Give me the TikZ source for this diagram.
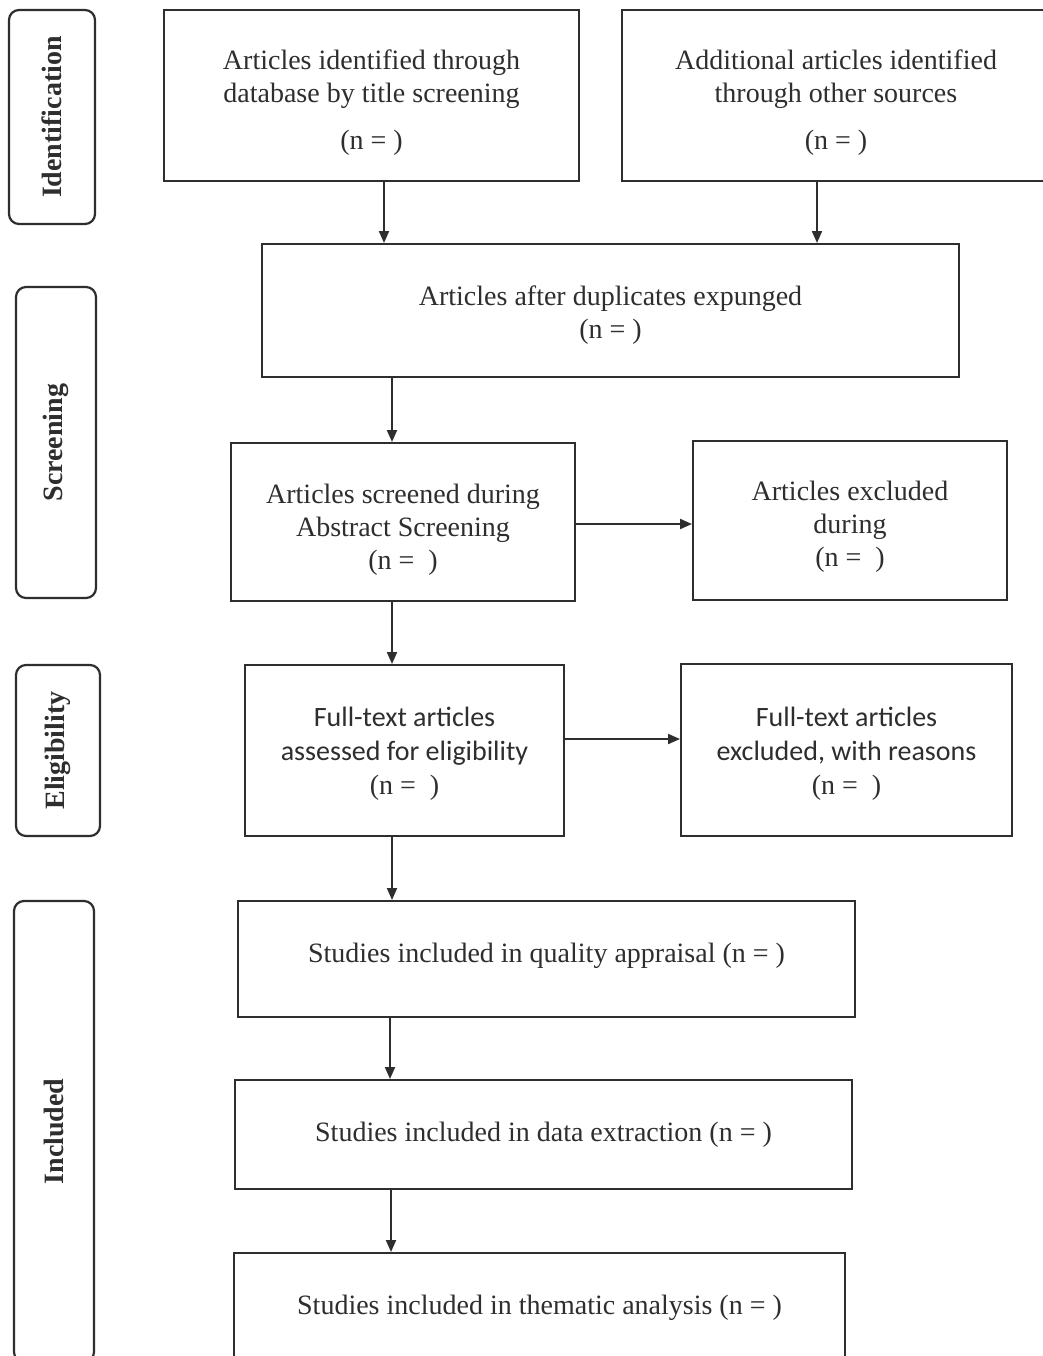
\documentclass[tikz,border=0pt]{standalone}
\usepackage{fontspec}
\setmainfont{Liberation Serif}
\newfontfamily\carlito{Carlito}
\usetikzlibrary{arrows.meta}
\definecolor{ink}{HTML}{2E2E2E}
\begin{document}
\begin{tikzpicture}[x=0.5pt,y=-0.5pt,
  every node/.style={text=ink},
  flowbox/.style={draw=ink,line width=1pt,rectangle,inner sep=0pt},
  txt/.style={align=center,inner sep=0pt,font=\fontsize{14}{16.5}\selectfont},
  sanstxt/.style={txt,font=\carlito\fontsize{14}{17}\selectfont},
  stagebox/.style={draw=ink,line width=1.1pt,rectangle,rounded corners=5pt,inner sep=0pt},
  stagelabel/.style={rotate=90,font=\bfseries\fontsize{14}{16}\selectfont},
  arr/.style={draw=ink,line width=1pt,-{Triangle[length=6pt,width=5pt]}}]
\clip (0,0) rectangle (1043,1356);
\fill[white] (0,0) rectangle (1043,1356);
% stage boxes
\node[stagebox,minimum width=43pt,minimum height=107pt] (sid) at (52,117) {};
\node[stagelabel] (lid) at (sid.center) {Identification};
\node[stagebox,minimum width=40pt,minimum height=155.5pt] (sscr) at (56,442.5) {};
\node[stagelabel] (lscr) at (sscr.center) {Screening};
\node[stagebox,minimum width=42pt,minimum height=85.5pt] (selig) at (58,750.5) {};
\node[stagelabel] (lelig) at (selig.center) {Eligibility};
\node[stagebox,minimum width=40pt,minimum height=230.5pt] (sinc) at (54,1131.5) {};
\node[stagelabel] (linc) at (sinc.center) {Included};
% flow boxes
\node[flowbox,minimum width=207.5pt,minimum height=85.5pt] (A) at (371.5,95.5) {};
\node[txt] (At) at ([yshift=-3.5pt]A.center)
  {Articles identified through\\database by title screening\\[7pt](n = )};
\node[flowbox,minimum width=214pt,minimum height=85.5pt] (B) at (836,95.5) {};
\node[txt] (Bt) at ([yshift=-3.5pt]B.center)
  {Additional articles identified\\through other sources\\[7pt](n = )};
\node[flowbox,minimum width=348.5pt,minimum height=66.5pt] (C) at (610.5,310.5) {};
\node[txt] (Ct) at ([yshift=-2.5pt]C.center)
  {Articles after duplicates expunged\\(n = )};
\node[flowbox,minimum width=172pt,minimum height=79pt] (D) at (403,522) {};
\node[txt] (Dt) at ([yshift=-4pt]D.center)
  {Articles screened during\\Abstract Screening\\(n =\ \ )};
\node[flowbox,minimum width=157pt,minimum height=79.5pt] (E) at (850,520.5) {};
\node[txt] (Et) at ([yshift=-3pt]E.center)
  {Articles excluded\\during\\(n =\ \ )};
\node[flowbox,minimum width=159.5pt,minimum height=85.5pt] (F) at (404.5,750.5) {};
\node[sanstxt] (Ft) at ([yshift=-1.5pt]F.center)
  {Full-text articles\\assessed for eligibility\\{\rmfamily(n =\ \ )}};
\node[flowbox,minimum width=165.5pt,minimum height=86pt] (G) at (846.5,750) {};
\node[sanstxt] (Gt) at ([yshift=-2pt]G.center)
  {Full-text articles\\excluded, with reasons\\{\rmfamily(n =\ \ )}};
\node[flowbox,minimum width=308.5pt,minimum height=58pt] (H) at (546.5,959) {};
\node[txt] (Ht) at ([yshift=1.5pt]H.center)
  {Studies included in quality appraisal (n = )};
\node[flowbox,minimum width=308.5pt,minimum height=54.5pt] (I) at (543.5,1134.5) {};
\node[txt] (It) at (I.center)
  {Studies included in data extraction (n = )};
\node[flowbox,minimum width=305.5pt,minimum height=54.5pt] (J) at (539.5,1307.5) {};
\node[txt] (Jt) at (J.center)
  {Studies included in thematic analysis (n = )};
% connector guide coordinates
\coordinate (xa) at (384,0);
\coordinate (xb) at (817,0);
\coordinate (xc) at (392,0);
\coordinate (xh) at (390,0);
\coordinate (xi) at (391,0);
\coordinate (yd) at (0,524);
\coordinate (yf) at (0,739);
% connectors
\draw[arr] (A.south -| xa) -- (C.north -| xa);
\draw[arr] (B.south -| xb) -- (C.north -| xb);
\draw[arr] (C.south -| xc) -- (D.north -| xc);
\draw[arr] (D.east |- yd) -- (E.west |- yd);
\draw[arr] (D.south -| xc) -- (F.north -| xc);
\draw[arr] (F.east |- yf) -- (G.west |- yf);
\draw[arr] (F.south -| xc) -- (H.north -| xc);
\draw[arr] (H.south -| xh) -- (I.north -| xh);
\draw[arr] (I.south -| xi) -- (J.north -| xi);
\end{tikzpicture}
\end{document}
